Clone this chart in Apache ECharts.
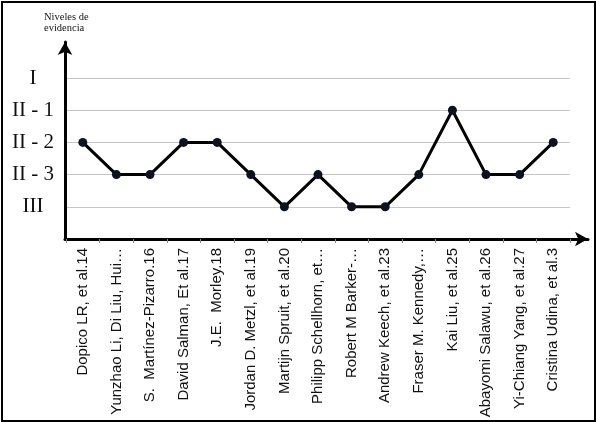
<!DOCTYPE html>
<html>
<head>
<meta charset="utf-8">
<script src="https://cdn.jsdelivr.net/npm/echarts@6/dist/echarts.min.js"></script>
<style>
  html, body { margin: 0; padding: 0; background: #fff; }
  #chart { width: 596px; height: 422px; }
  #frame { position: absolute; left: 1px; top: 1px; width: 591px; height: 417px; border: 2px solid #000; pointer-events: none; }
</style>
</head>
<body>
<div id="chart"></div>
<div id="frame"></div>
<script>
const studies = [
  'Dopico LR, et al.14',
  'Yunzhao Li, Di Liu, Hui…',
  'S.  Martínez-Pizarro.16',
  'David Salman, Et al.17',
  'J.E.  Morley.18',
  'Jordan D. Metzl, et al.19',
  'Martijn Spruit, et al.20',
  'Philipp Schellhorn, et…',
  'Robert M Barker-…',
  'Andrew Keech, et al.23',
  'Fraser M. Kennedy,…',
  'Kai Liu, et al.25',
  'Abayomi Salawu, et al.26',
  'Yi-Chiang Yang, et al.27',
  'Cristina Udina, et al.3'
];
// 1 = III, 2 = II-3, 3 = II-2, 4 = II-1, 5 = I
const levels = [3, 2, 2, 3, 3, 2, 1, 2, 1, 1, 2, 4, 2, 2, 3];
const levelLabels = ['', 'III', 'II - 3', 'II - 2', 'II - 1', 'I'];

const chart = echarts.init(document.getElementById('chart'), null, { renderer: 'canvas' });

chart.setOption({
  animation: false,
  grid: [
    { left: 66, right: 26, top: 78, bottom: 183 },
    { left: 65, right: 8, top: 42, bottom: 183 }
  ],
  graphic: [{
    type: 'text',
    left: 44,
    top: 12,
    style: {
      text: 'Niveles de\nevidencia',
      font: '10.5px "Liberation Serif"',
      fill: '#111',
      lineHeight: 11
    }
  }],
  xAxis: [{
    type: 'category',
    gridIndex: 0,
    data: studies,
    boundaryGap: true,
    axisLine: { show: false },
    axisTick: { show: true, length: 4, lineStyle: { color: '#888' } },
    axisLabel: {
      rotate: 90,
      interval: 0,
      margin: 9,
      color: '#111',
      fontFamily: '"Liberation Sans Narrow", "Liberation Sans", sans-serif',
      fontSize: 15
    }
  }, {
    type: 'value',
    gridIndex: 1,
    min: 0,
    max: 1,
    axisLine: { show: true, symbol: ['none', 'arrow'], symbolSize: [11, 13], lineStyle: { color: '#000', width: 3 } },
    axisTick: { show: false },
    axisLabel: { show: false },
    splitLine: { show: false }
  }],
  yAxis: [{
    type: 'value',
    gridIndex: 0,
    min: 0,
    max: 5,
    interval: 1,
    axisLine: { show: false },
    axisTick: { show: false },
    axisLabel: {
      align: 'center',
      margin: 33,
      color: '#111',
      fontFamily: '"Liberation Serif", serif',
      fontSize: 21,
      formatter: (v) => levelLabels[v] || ''
    },
    splitLine: { show: true, lineStyle: { color: '#c6c6c6', width: 1 } }
  }, {
    type: 'value',
    gridIndex: 1,
    min: 0,
    max: 1,
    axisLine: { show: true, symbol: ['none', 'arrow'], symbolSize: [11, 13], lineStyle: { color: '#000', width: 3 } },
    axisTick: { show: false },
    axisLabel: { show: false },
    splitLine: { show: false }
  }],
  series: [{
    type: 'line',
    xAxisIndex: 0,
    yAxisIndex: 0,
    data: levels,
    symbol: 'circle',
    symbolSize: 9,
    lineStyle: { color: '#000', width: 3 },
    itemStyle: { color: '#0d1220' },
    z: 5
  }]
});
</script>
</body>
</html>
